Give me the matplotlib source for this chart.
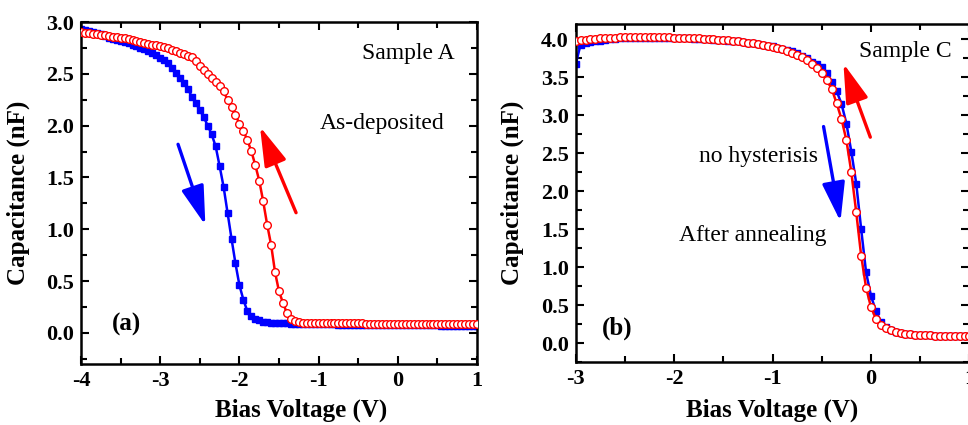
import numpy as np
import matplotlib
matplotlib.use("Agg")
import matplotlib.pyplot as plt
from matplotlib.ticker import MultipleLocator

plt.rcParams['font.family'] = ['Liberation Serif', 'DejaVu Serif']
plt.rcParams['axes.unicode_minus'] = False

## ---------------- sample A, as-deposited (panel a) ----------------
# bias sweep, -4 V .. 1 V in 0.05 V steps
bias_a = np.round(np.arange(-4.0, 1.0001, 0.05), 2)

# forward sweep (neg -> pos), blue squares
cap_a_fwd = [
    2.93, 2.92, 2.91, 2.90, 2.89, 2.88, 2.865, 2.85, 2.84, 2.83,
    2.82, 2.81, 2.795, 2.78, 2.77, 2.75, 2.735, 2.72, 2.70, 2.68,
    2.655, 2.63, 2.60, 2.555, 2.51, 2.46, 2.41, 2.35, 2.28, 2.215,
    2.15, 2.08, 2.00, 1.915, 1.80, 1.61, 1.41, 1.16, 0.91, 0.67,
    0.46, 0.32, 0.21, 0.16, 0.13, 0.12, 0.11, 0.105, 0.10, 0.098,
    0.095, 0.093, 0.091, 0.09, 0.089, 0.088, 0.087, 0.086, 0.085, 0.085,
    0.084, 0.083, 0.083, 0.082, 0.082, 0.081, 0.08, 0.08, 0.079, 0.079,
    0.078, 0.078, 0.077, 0.077, 0.077, 0.076, 0.076, 0.075, 0.075, 0.075,
    0.075, 0.074, 0.074, 0.074, 0.073, 0.073, 0.073, 0.072, 0.072, 0.072,
    0.072, 0.071, 0.071, 0.071, 0.071, 0.07, 0.07, 0.07, 0.07, 0.07,
    0.07]

# reverse sweep (pos -> neg), red open circles
cap_a_rev = [
    2.90, 2.895, 2.89, 2.885, 2.88, 2.875, 2.87, 2.865, 2.86, 2.855,
    2.85, 2.845, 2.84, 2.83, 2.82, 2.81, 2.80, 2.79, 2.78, 2.775,
    2.765, 2.755, 2.745, 2.73, 2.72, 2.705, 2.69, 2.675, 2.66, 2.62,
    2.575, 2.54, 2.50, 2.46, 2.42, 2.38, 2.33, 2.25, 2.18, 2.10,
    2.02, 1.95, 1.86, 1.755, 1.62, 1.47, 1.27, 1.045, 0.85, 0.585,
    0.40, 0.29, 0.19, 0.13, 0.115, 0.105, 0.10, 0.098, 0.097, 0.096,
    0.095, 0.095, 0.094, 0.094, 0.093, 0.093, 0.092, 0.092, 0.092, 0.091,
    0.091, 0.091, 0.09, 0.09, 0.09, 0.09, 0.089, 0.089, 0.089, 0.089,
    0.088, 0.088, 0.088, 0.088, 0.088, 0.087, 0.087, 0.087, 0.087, 0.087,
    0.086, 0.086, 0.086, 0.086, 0.086, 0.086, 0.085, 0.085, 0.085, 0.085,
    0.085]

## ---------------- sample C, after annealing (panel b) ----------------
# bias sweep, -3 V .. 1 V in 0.05 V steps
bias_c = np.round(np.arange(-3.0, 1.0001, 0.05), 2)

cap_c_fwd = [
    3.67, 3.93, 3.95, 3.96, 3.97, 3.98, 3.99, 4.0, 4.005, 4.01,
    4.015, 4.015, 4.02, 4.02, 4.02, 4.02, 4.02, 4.02, 4.02, 4.015,
    4.015, 4.01, 4.01, 4.01, 4.005, 4.0, 4.0, 4.0, 3.995, 3.99,
    3.985, 3.98, 3.975, 3.97, 3.965, 3.955, 3.945, 3.935, 3.925, 3.915,
    3.905, 3.89, 3.875, 3.86, 3.84, 3.815, 3.785, 3.75, 3.70, 3.67,
    3.63, 3.55, 3.44, 3.32, 3.15, 2.89, 2.52, 2.10, 1.50, 0.93,
    0.62, 0.42, 0.28, 0.21, 0.17, 0.15, 0.135, 0.125, 0.118, 0.112,
    0.108, 0.104, 0.101, 0.099, 0.097, 0.096, 0.095, 0.094, 0.093, 0.092,
    0.092]

cap_c_rev = [
    3.98, 3.99, 3.995, 4.0, 4.005, 4.01, 4.015, 4.02, 4.02, 4.025,
    4.025, 4.03, 4.03, 4.03, 4.03, 4.03, 4.03, 4.03, 4.025, 4.025,
    4.02, 4.02, 4.02, 4.015, 4.01, 4.01, 4.005, 4.0, 4.0, 3.995,
    3.99, 3.985, 3.98, 3.975, 3.965, 3.955, 3.945, 3.935, 3.92, 3.91,
    3.895, 3.88, 3.865, 3.845, 3.82, 3.79, 3.76, 3.72, 3.67, 3.62,
    3.55, 3.46, 3.35, 3.16, 2.95, 2.67, 2.25, 1.72, 1.15, 0.73,
    0.47, 0.32, 0.235, 0.195, 0.165, 0.145, 0.13, 0.12, 0.115, 0.11,
    0.105, 0.102, 0.10, 0.098, 0.097, 0.096, 0.095, 0.094, 0.093, 0.092,
    0.092]

BLUE = '#0000ff'
RED = '#ff0000'

fig = plt.figure(figsize=(9.68, 4.25), dpi=100)
ax1 = fig.add_axes([0.0837, 0.1435, 0.4091, 0.8047])
ax2 = fig.add_axes([0.5947, 0.1482, 0.4068, 0.7953])


def style_axis(ax, xlim, ylim):
    ax.set_xlim(*xlim)
    ax.set_ylim(*ylim)
    ax.xaxis.set_major_locator(MultipleLocator(1))
    ax.xaxis.set_minor_locator(MultipleLocator(0.5))
    ax.yaxis.set_major_locator(MultipleLocator(0.5))
    ax.yaxis.set_minor_locator(MultipleLocator(0.25))
    ax.tick_params(which='both', direction='in', top=True, right=True,
                   width=1.5, labelsize=16, pad=5)
    ax.tick_params(which='major', length=6)
    ax.tick_params(which='minor', length=4)
    for s in ax.spines.values():
        s.set_linewidth(1.8)
    for lab in ax.get_xticklabels() + ax.get_yticklabels():
        lab.set_fontweight('bold')
    ax.set_xlabel('Bias Voltage (V)', fontsize=18, fontweight='bold')
    ax.set_ylabel('Capacitance (nF)', fontsize=18, fontweight='bold')


def draw_loop(ax, v, fwd, rev):
    ax.plot(v, fwd, '-', color=BLUE, lw=1.8, marker='s', ms=4.5,
            mfc=BLUE, mec=BLUE, zorder=2)
    ax.plot(v, rev, '-', color=RED, lw=1.8, marker='o', ms=5.5,
            mfc='white', mec=RED, mew=1.0, zorder=3)


def arrow(ax, tail, tip, color):
    ax.annotate('', xy=tip, xytext=tail,
                arrowprops=dict(arrowstyle='-|>,head_length=1.2,head_width=0.35',
                                color=color, lw=2.4, mutation_scale=20,
                                shrinkA=0, shrinkB=0))


# panel (a)
draw_loop(ax1, bias_a, cap_a_fwd, cap_a_rev)
style_axis(ax1, (-4, 1), (-0.3, 3.0))
ax1.xaxis.set_label_coords(0.555, -0.102)
ax1.yaxis.set_label_coords(-0.13, 0.5)
arrow(ax1, (-2.775, 1.82), (-2.43, 1.04), BLUE)
arrow(ax1, (-1.285, 1.16), (-1.74, 1.99), RED)
ax1.text(0.13, 2.70, 'Sample A', fontsize=17, ha='center', va='center')
ax1.text(-0.20, 2.02, 'As-deposited', fontsize=17, ha='center', va='center')
ax1.text(-3.42, 0.08, '(a)', fontsize=18, fontweight='bold', ha='center', va='center')

# panel (b)
draw_loop(ax2, bias_c, cap_c_fwd, cap_c_rev)
style_axis(ax2, (-3, 1), (-0.25, 4.2))
ax2.xaxis.set_label_coords(0.5, -0.109)
ax2.yaxis.set_label_coords(-0.13, 0.5)
arrow(ax2, (-0.482, 2.85), (-0.31, 1.60), BLUE)
arrow(ax2, (-0.007, 2.71), (-0.28, 3.68), RED)
ax2.text(0.35, 3.84, 'Sample C', fontsize=17, ha='center', va='center')
ax2.text(-1.14, 2.46, 'no hysterisis', fontsize=17, ha='center', va='center')
ax2.text(-1.2, 1.42, 'After annealing', fontsize=17, ha='center', va='center')
ax2.text(-2.58, 0.2, '(b)', fontsize=18, fontweight='bold', ha='center', va='center')

fig.savefig('out.png', dpi=100)
